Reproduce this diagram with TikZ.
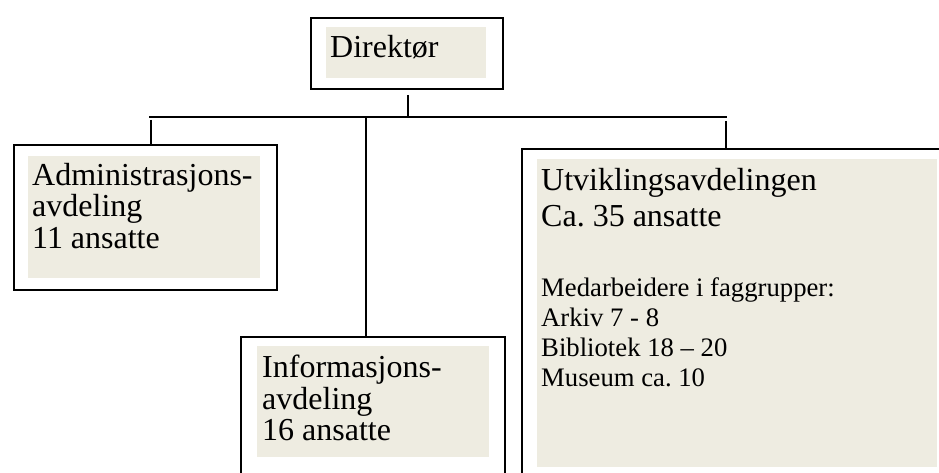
\documentclass[tikz,border=0pt]{standalone}
\usepackage{fontspec}
\setmainfont{Liberation Serif}
\usepackage{xcolor}
\definecolor{beige}{HTML}{EEECE1}
\frenchspacing

\begin{document}
\begin{tikzpicture}
  [x=1pt,y=-1pt,
   boks/.style={draw,line width=2pt,fill=white,inner sep=0pt,anchor=north west},
   flate/.style={fill=beige,inner sep=0pt,anchor=north west},
   tekst/.style={inner sep=0pt,anchor=north west,align=left,font=\fontsize{32}{31.5}\selectfont},
   liten/.style={tekst,font=\fontsize{26.7}{30.3}\selectfont},
   linje/.style={line width=1.6pt}]
  \clip (0,0) rectangle (939,473);

  % rammer
  \node[boks,minimum width=192,minimum height=71] (dir) at (310,17) {};
  \node[boks,minimum width=263,minimum height=145] (adm) at (12.7,144.3) {};
  \node[boks,minimum width=264.5,minimum height=200] (info) at (239.5,336) {};
  \node[boks,minimum width=500,minimum height=400] (utv) at (521,148) {};

  % bakgrunn
  \node[flate,minimum width=160,minimum height=51] (dirflate) at (326,27) {};
  \node[flate,minimum width=232,minimum height=122] (admflate) at (28,156) {};
  \node[flate,minimum width=232,minimum height=111] (infoflate) at (257,346) {};
  \node[flate,minimum width=400,minimum height=308] (utvflate) at (537,159) {};

  % tekster
  \node[tekst] (dirtekst) at (330,35) {Direktør};
  \node[tekst] (admtekst) at (32,163) {Administrasjons-\\avdeling\\11 ansatte};
  \node[tekst] (infotekst) at (262,355) {Informasjons-\\avdeling\\16 ansatte};
  \node[tekst,font=\fontsize{32}{36}\selectfont] (utvtekst) at (541,168) {Utviklingsavdelingen\\Ca. 35 ansatte};
  \node[liten] (utvliste) at (541,277) {Medarbeidere i faggrupper:\\Arkiv 7 - 8\\Bibliotek 18 – 20\\Museum ca. 10};

  % linjer
  \coordinate (bus1) at (149,117);
  \coordinate (bus2) at (727,117);
  \coordinate (dirtap) at (408,117);
  \coordinate (admtap) at (151,117);
  \coordinate (infotap) at (366,117);
  \coordinate (utvtap) at (726,117);
  \draw[linje] (bus1) -- (bus2);
  \draw[linje,shorten <=5pt] (dirtap |- dir.south) -- (dirtap);
  \draw[linje,shorten <=3pt] (admtap) -- (admtap |- adm.north);
  \draw[linje] (infotap) -- (infotap |- info.north);
  \draw[linje,shorten <=4pt] (utvtap) -- (utvtap |- utv.north);
\end{tikzpicture}
\end{document}
